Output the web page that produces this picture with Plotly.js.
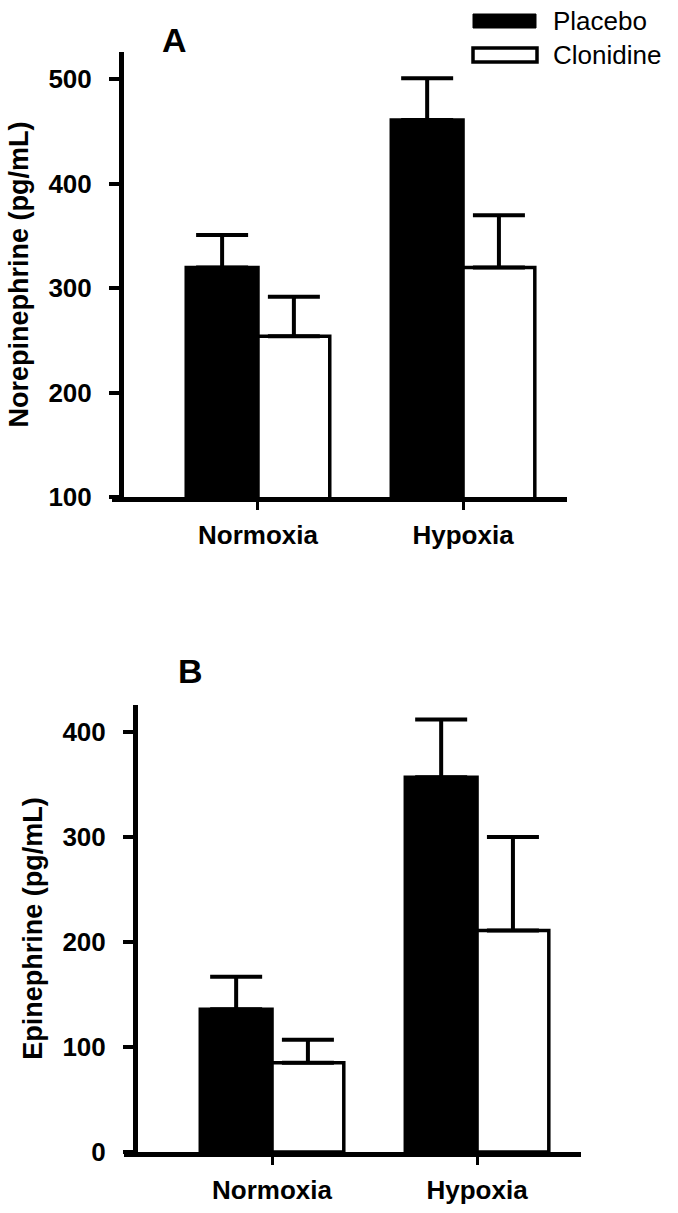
<!DOCTYPE html>
<html>
<head>
<meta charset="utf-8">
<script src="https://cdn.plot.ly/plotly-3.0.1.min.js"></script>
<style>
  html, body { margin: 0; padding: 0; background: #ffffff; }
  #chart { width: 678px; height: 1213px; }
</style>
</head>
<body>
<div id="chart"></div>
<script>
// ---- data ----
const categories = ['Normoxia', 'Hypoxia'];
const seriesNames = ['Placebo', 'Clonidine'];

// Panel A: Norepinephrine (pg/mL)
const nePlacebo = [320, 461];
const nePlaceboSE = [31, 40];
const neClonidine = [254, 320];
const neClonidineSE = [38, 50];

// Panel B: Epinephrine (pg/mL)
const epPlacebo = [136, 357];
const epPlaceboSE = [31, 55];
const epClonidine = [85, 211];
const epClonidineSE = [22, 89];

const neTicks = [100, 200, 300, 400, 500];
const epTicks = [0, 100, 200, 300, 400];

const panelLabels = ['A', 'B'];
const yTitles = ['Norepinephrine (pg/mL)', 'Epinephrine (pg/mL)'];

// ---- drawing ----
const W = 678, H = 1213;
const px = v => v / W;
const py = v => 1 - v / H;
const FONT = 'Liberation Sans, Arial, Helvetica, sans-serif';

function barTrace(name, x, y, se, fill, xa, ya) {
  return {
    type: 'bar', name: name, x: x, y: y,
    xaxis: xa, yaxis: ya,
    marker: { color: fill, line: { color: '#000000', width: 3.5 } },
    error_y: {
      type: 'data', symmetric: false, array: se,
      arrayminus: se.map(() => 0),
      color: '#000000', thickness: 4, width: 26
    },
    showlegend: false,
    hoverinfo: 'skip'
  };
}

const traces = [
  barTrace(seriesNames[0], categories, nePlacebo, nePlaceboSE, '#000000', 'x', 'y'),
  barTrace(seriesNames[1], categories, neClonidine, neClonidineSE, '#ffffff', 'x', 'y'),
  barTrace(seriesNames[0], categories, epPlacebo, epPlaceboSE, '#000000', 'x2', 'y2'),
  barTrace(seriesNames[1], categories, epClonidine, epClonidineSE, '#ffffff', 'x2', 'y2')
];

const xCommon = {
  type: 'category', showline: true, linewidth: 4.5, linecolor: '#000000',
  ticks: 'outside', ticklen: 8, tickwidth: 3, tickcolor: '#000000',
  tickfont: { family: FONT, size: 26, color: '#000000', weight: 'bold' },
  ticklabelstandoff: 3,
  showgrid: false, zeroline: false, fixedrange: true
};
const yCommon = {
  showline: true, linewidth: 4.5, linecolor: '#000000',
  ticks: 'outside', ticklen: 10, tickwidth: 4, tickcolor: '#000000',
  tickfont: { family: FONT, size: 26, color: '#000000', weight: 'bold' },
  ticklabelstandoff: 12,
  showgrid: false, zeroline: false, fixedrange: true, anchor: 'free'
};

const layout = {
  width: W, height: H,
  margin: { l: 0, r: 0, t: 0, b: 0, pad: 0 },
  paper_bgcolor: '#ffffff', plot_bgcolor: 'rgba(0,0,0,0)',
  barmode: 'group', bargap: 0.3, bargroupgap: 0,
  showlegend: false,
  xaxis: Object.assign({}, xCommon, {
    domain: [px(112), px(567)], range: [-0.712, 1.507], anchor: 'y'
  }),
  yaxis: Object.assign({}, yCommon, {
    domain: [py(497.3), py(51.7)], range: [100, 526.4],
    position: px(121), tickvals: neTicks,
    title: { text: yTitles[0], standoff: 11,
      font: { family: FONT, size: 27, color: '#000000', weight: 'bold' } }
  }),
  xaxis2: Object.assign({}, xCommon, {
    domain: [px(124), px(581)], range: [-0.722, 1.507], anchor: 'y2'
  }),
  yaxis2: Object.assign({}, yCommon, {
    domain: [py(1152), py(705)], range: [0, 425.7],
    position: px(135), tickvals: epTicks,
    title: { text: yTitles[1], standoff: 11,
      font: { family: FONT, size: 27, color: '#000000', weight: 'bold' } }
  }),
  shapes: [
    { type: 'rect', xref: 'paper', yref: 'paper',
      x0: px(473), x1: px(536), y0: py(28), y1: py(14),
      fillcolor: '#000000', line: { color: '#000000', width: 1 } },
    { type: 'rect', xref: 'paper', yref: 'paper',
      x0: px(473), x1: px(537), y0: py(62), y1: py(48),
      fillcolor: '#ffffff', line: { color: '#000000', width: 3.5 } }
  ],
  annotations: [
    { text: seriesNames[0], xref: 'paper', yref: 'paper', x: px(551), y: py(21),
      xanchor: 'left', yanchor: 'middle', showarrow: false,
      font: { family: FONT, size: 26, color: '#000000' } },
    { text: seriesNames[1], xref: 'paper', yref: 'paper', x: px(551), y: py(55),
      xanchor: 'left', yanchor: 'middle', showarrow: false,
      font: { family: FONT, size: 26, color: '#000000' } },
    { text: panelLabels[0], xref: 'paper', yref: 'paper', x: px(174.5), y: py(40),
      xanchor: 'center', yanchor: 'middle', showarrow: false,
      font: { family: FONT, size: 34, color: '#000000', weight: 'bold' } },
    { text: panelLabels[1], xref: 'paper', yref: 'paper', x: px(191), y: py(671),
      xanchor: 'center', yanchor: 'middle', showarrow: false,
      font: { family: FONT, size: 34, color: '#000000', weight: 'bold' } }
  ]
};

Plotly.newPlot('chart', traces, layout, { displayModeBar: false, staticPlot: true });
</script>
</body>
</html>
